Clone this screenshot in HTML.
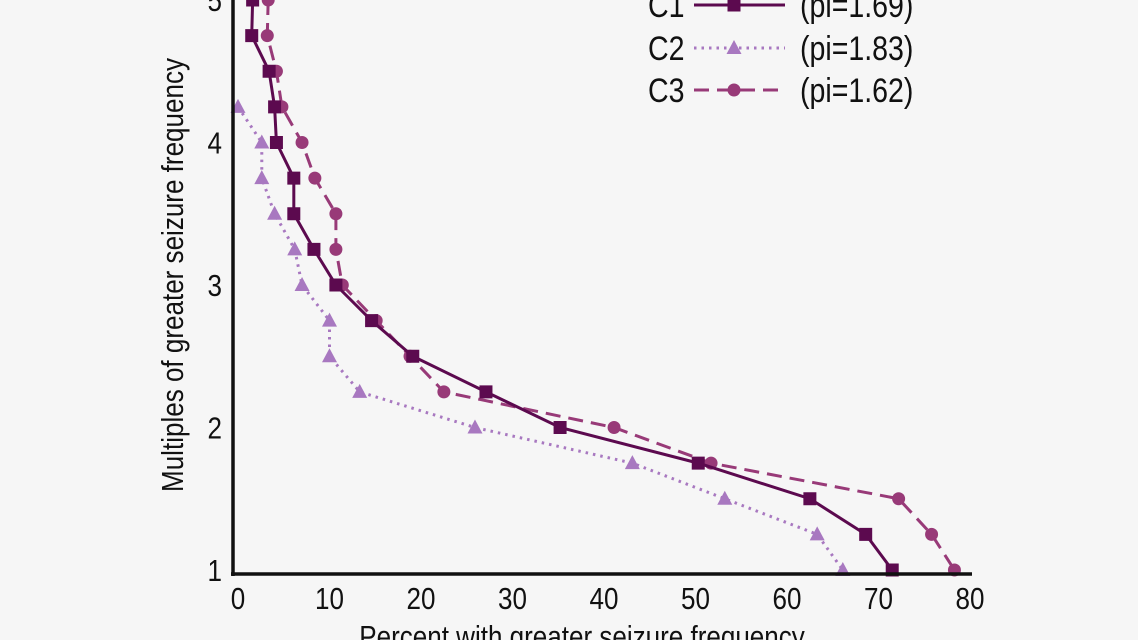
<!DOCTYPE html>
<html><head><meta charset="utf-8"><style>
body{margin:0;background:#f6f6f6;}
svg{display:block;font-family:"Liberation Sans",sans-serif;}
</style></head><body>
<svg id="chart" width="1138" height="640">
<rect width="1138" height="640" fill="#f6f6f6"/>
</svg>
<script>
const c1M=[5,4.75,4.5,4.25,4,3.75,3.5,3.25,3,2.75,2.5,2.25,2,1.75,1.5,1.25,1];
const c1V=[1.6,1.5,3.4,4,4.2,6.1,6.1,8.3,10.7,14.6,19.1,27.1,35.2,50.3,62.5,68.6,71.5];
const c2M=[4.25,4,3.75,3.5,3.25,3,2.75,2.5,2.25,2,1.75,1.5,1.25,1];
const c2V=[0,2.6,2.6,4,6.2,7,10,10,13.3,25.9,43.1,53.2,63.3,66.1];
const c3M=[5,4.75,4.5,4.25,4,3.75,3.5,3.25,3,2.75,2.5,2.25,2,1.75,1.5,1.25,1];
const c3V=[3.3,3.2,4.2,4.8,7,8.4,10.7,10.7,11.4,15.1,18.8,22.5,41.1,51.7,72.2,75.8,78.3];
const xTicks=[0,10,20,30,40,50,60,70,80];
const yTicks=[1,2,3,4,5];
const NS="http://www.w3.org/2000/svg";
const svg=document.getElementById('chart');
const X=v=>238+v*9.15, Y=m=>570-(m-1)*142.5;
function mk(t,a,p){const e=document.createElementNS(NS,t);for(const k in a)e.setAttribute(k,a[k]);(p||svg).appendChild(e);return e;}
function txt(s,x,y,size,anchor,rot,p){
  const t=mk('text',{x:0,y:0,'text-anchor':anchor,'font-size':size,fill:'#111',
    transform:`translate(${x},${y}) ${rot?'rotate(-90) ':''}scale(0.84,1)`},p);
  t.textContent=s;return t;
}
const C1='#5c0a4f',C2='#a878c0',C3='#983a78';
function series(name,V,M,col,dash,w,marker){
  const g=mk('g',{});
  
  
  const pts=V.map((v,i)=>X(v)+','+Y(M[i])).join(' ');
  const l=mk('polyline',{points:pts,fill:'none',stroke:col,'stroke-width':w,'stroke-dasharray':dash},g);
  
  
  V.forEach((v,i)=>{
    const x=X(v),y=Y(M[i]);let e;
    if(marker==='sq')e=mk('rect',{x:x-6.5,y:y-6.5,width:13,height:13,fill:col},g);
    else if(marker==='tri')e=mk('polygon',{points:`${x},${y-8} ${x-7.5},${y+6} ${x+7.5},${y+6}`,fill:col},g);
    else e=mk('circle',{cx:x,cy:y,r:6.5,fill:col},g);
    
    
  });
}
series('series-c2',c2V,c2M,C2,'2.5 5',3,'tri');
series('series-c3',c3V,c3M,C3,'15 8',3,'circ');
series('series-c1',c1V,c1M,C1,'',3,'sq');
const ya=mk('line',{x1:233,y1:0,x2:233,y2:576,stroke:'#111','stroke-width':3.5});

const xa=mk('line',{x1:231,y1:574,x2:972,y2:574,stroke:'#111','stroke-width':3.5});

xTicks.forEach(v=>{const t=txt(String(v),X(v),609,31,'middle');
});
yTicks.forEach(m=>{const t=txt(String(m),222,Y(m)+11,31,'end');
});
const xt=txt('Percent with greater seizure frequency',582,647,31,'middle');

const yt=txt('Multiples of greater seizure frequency',183,275,31,'middle',true);

const leg=[['C1','(pi=1.69)',C1,'','sq',5],['C2','(pi=1.83)',C2,'2.5 5','tri',48],['C3','(pi=1.62)',C3,'15 8','circ',90]];
leg.forEach(([a,b,col,dash,mkr,y])=>{
  const g=mk('g',{});
  
  
  txt(a,648,y+12,34,'start',false,g);
  mk('line',{x1:694,y1:y,x2:785,y2:y,stroke:col,'stroke-width':3,'stroke-dasharray':dash},g);
  if(mkr==='sq')mk('rect',{x:727.5,y:y-6.5,width:13,height:13,fill:col},g);
  else if(mkr==='tri')mk('polygon',{points:`734,${y-8} 726.5,${y+6} 741.5,${y+6}`,fill:col},g);
  else mk('circle',{cx:734,cy:y,r:6.5,fill:col},g);
  txt(b,800,y+12,34,'start',false,g);
});
</script>
</body></html>
